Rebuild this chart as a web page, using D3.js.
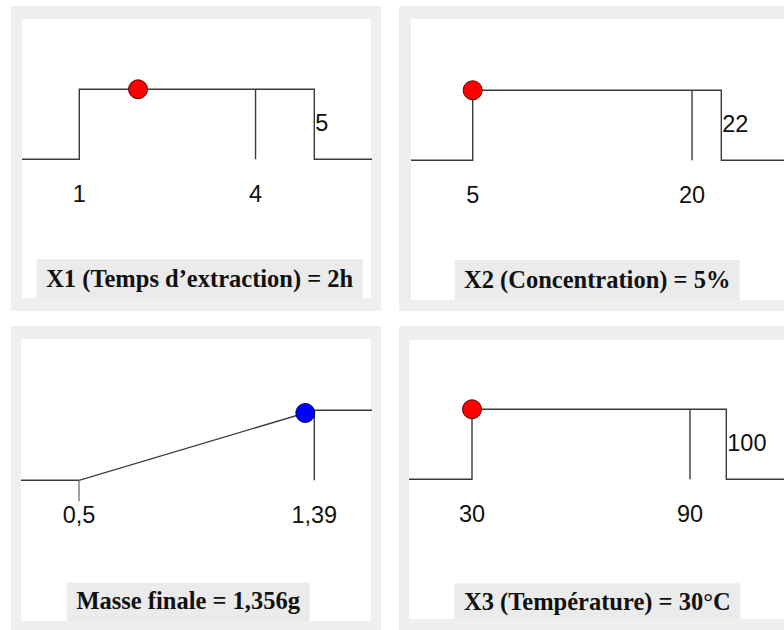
<!DOCTYPE html>
<html>
<head>
<meta charset="utf-8">
<script src="https://cdn.jsdelivr.net/npm/d3@7"></script>
<style>
  body { margin: 0; background: #fff; }
  svg { display: block; }
</style>
</head>
<body>
<div id="chart"></div>
<script>
// desirability profiles, one per panel
var panelTitles = ["X1 (Temps d\u2019extraction) = 2h", "X2 (Concentration) = 5%", "Masse finale = 1,356g", "X3 (Temp\u00e9rature) = 30\u00b0C"]
var shapes = ["step", "step", "ramp", "step"]
var lowLimits = [1, 5, 0.5, 30]
var targetValues = [4, 20, 1.39, 90]
var upperLimits = [5, 22, null, 100]
var currentValues = [2, 5, 1.356, 30]
var lowLabels = ["1", "5", "0,5", "30"]
var targetLabels = ["4", "20", "1,39", "90"]
var upperLabels = ["5", "22", null, "100"]
var dotColors = ["#ff0000", "#ff0000", "#0000ff", "#ff0000"]

var width = 784, height = 630

// layout of each panel (grey frame, white area, plot range, title box)
var layout = [
  { gx: 11,  gy: 6,   gw: 370, gh: 305, wx: 22,  wy: 19,  ww: 349, wh: 279, r0: 79.3, r1: 314.3, base: 159.3, tb: { x: 36.7,  y: 259,   w: 326, h: 39,   ty: 287 } },
  { gx: 399, gy: 6,   gw: 385, gh: 305, wx: 411, wy: 19,  ww: 373, wh: 281, r0: 472.7, r1: 721.3, base: 160.3, tb: { x: 454.7, y: 260,   w: 285, h: 40,   ty: 288 } },
  { gx: 11,  gy: 326, gw: 370, gh: 304, wx: 21,  wy: 339, ww: 350, wh: 282, r0: 79,   r1: 314.3, base: 480.3, tb: { x: 66.7,  y: 582.7, w: 243, h: 38.3, ty: 609 } },
  { gx: 399, gy: 326, gw: 385, gh: 304, wx: 409, wy: 340, ww: 375, wh: 279, r0: 472,  r1: 726.3, base: 479.3, tb: { x: 454.3, y: 583.3, w: 286, h: 35.7, ty: 610 } }
]

var svg = d3.select("#chart").append("svg")
    .attr("width", width)
    .attr("height", height)

var lineColor = "#3a3a3a"

panelTitles.forEach(function(title, i){
  var L = layout[i]
  var g = svg.append("g").attr("class", "panel")

  g.append("rect")
      .attr("x", L.gx).attr("y", L.gy)
      .attr("width", L.gw).attr("height", L.gh)
      .attr("fill", "#efefef")
  g.append("rect")
      .attr("x", L.wx).attr("y", L.wy)
      .attr("width", L.ww).attr("height", L.wh)
      .attr("fill", "#fff")

  var hiVal = shapes[i] == "ramp" ? targetValues[i] : upperLimits[i]
  var x = d3.scaleLinear()
      .domain([lowLimits[i], hiVal])
      .range([L.r0, L.r1])
  var y = d3.scaleLinear()
      .domain([0, 1])
      .range([L.base, L.base - 70])

  var left = L.wx, right = L.wx + L.ww + 1
  var pts
  if (shapes[i] == "step") {
    pts = [[left, y(0)], [x(lowLimits[i]), y(0)], [x(lowLimits[i]), y(1)],
           [x(upperLimits[i]), y(1)], [x(upperLimits[i]), y(0)], [right, y(0)]]
  } else {
    pts = [[left, y(0)], [x(lowLimits[i]), y(0)], [x(targetValues[i]), y(1)], [right, y(1)]]
  }

  var clip = "clip" + i
  g.append("clipPath").attr("id", clip)
    .append("rect")
      .attr("x", L.wx).attr("y", L.wy)
      .attr("width", L.ww + 2).attr("height", L.wh)

  var plot = g.append("g").attr("clip-path", "url(#" + clip + ")")

  plot.append("path")
      .attr("d", d3.line()(pts))
      .attr("fill", "none")
      .attr("stroke", lineColor)
      .attr("stroke-width", 1.4)

  // target marker: vertical from top to baseline
  plot.append("line")
      .attr("x1", x(targetValues[i])).attr("x2", x(targetValues[i]))
      .attr("y1", y(1)).attr("y2", y(0))
      .attr("stroke", lineColor)
      .attr("stroke-width", 1.4)

  if (shapes[i] == "ramp") {
    plot.append("line")
        .attr("x1", x(lowLimits[i])).attr("x2", x(lowLimits[i]))
        .attr("y1", y(0)).attr("y2", y(0) + 21)
        .attr("stroke", "#777")
        .attr("stroke-width", 1.4)
  }

  // labels under the baseline
  var under = [[lowLimits[i], lowLabels[i]], [targetValues[i], targetLabels[i]]]
  plot.selectAll("text.tick")
      .data(under)
    .enter().append("text")
      .attr("class", "tick")
      .attr("x", function(d){ return x(d[0]) })
      .attr("y", y(0) + 43)
      .attr("text-anchor", "middle")
      .attr("font-family", "Liberation Sans, Arial, sans-serif")
      .attr("font-size", 23.5)
      .attr("fill", "#111")
      .text(function(d){ return d[1] })

  if (upperLabels[i] != null) {
    plot.append("text")
        .attr("x", x(upperLimits[i]) + 1)
        .attr("y", y(0) - 28)
        .attr("font-family", "Liberation Sans, Arial, sans-serif")
        .attr("font-size", 23.5)
        .attr("fill", "#111")
        .text(upperLabels[i])
  }

  // current setting
  var dVal
  if (shapes[i] == "step") {
    dVal = (currentValues[i] >= lowLimits[i] && currentValues[i] <= upperLimits[i]) ? 1 : 0
  } else {
    dVal = Math.max(0, Math.min(1, (currentValues[i] - lowLimits[i]) / (targetValues[i] - lowLimits[i])))
  }
  plot.append("circle")
      .attr("cx", x(currentValues[i]))
      .attr("cy", y(dVal))
      .attr("r", 9.5)
      .attr("fill", dotColors[i])
      .attr("stroke", dotColors[i] == "#0000ff" ? "#000060" : "#600000")
      .attr("stroke-width", 1)

  // title box
  g.append("rect")
      .attr("x", L.tb.x).attr("y", L.tb.y)
      .attr("width", L.tb.w).attr("height", L.tb.h)
      .attr("fill", "#ebebeb")
  g.append("text")
      .attr("x", L.tb.x + L.tb.w / 2)
      .attr("y", L.tb.ty)
      .attr("text-anchor", "middle")
      .attr("font-family", "Liberation Serif, Times New Roman, serif")
      .attr("font-weight", "bold")
      .attr("font-size", 24.5)
      .attr("fill", "#111")
      .text(title)
})
</script>
</body>
</html>
